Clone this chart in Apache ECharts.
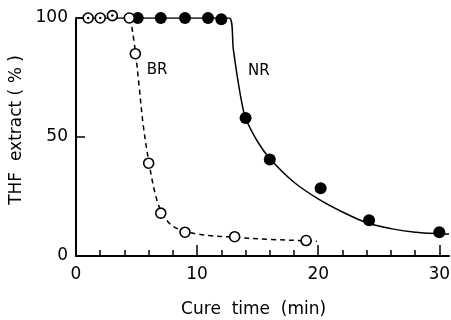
<!DOCTYPE html>
<html>
<head>
<meta charset="utf-8">
<script src="https://cdn.jsdelivr.net/npm/echarts@6/dist/echarts.min.js"></script>
<style>
html,body{margin:0;padding:0;background:#fff;}
#c{width:451px;height:320px;}
</style>
</head>
<body>
<div id="c"></div>
<script>
// Measured points
const brX = [1, 2, 3, 4.4, 4.9, 6, 7, 9, 13.1, 19];
const brY = [100, 100, 101, 100, 85, 39, 18, 10, 8.1, 6.5];
const nrX = [5.1, 7, 9, 10.9, 12, 14, 16, 20.2, 24.2, 30];
const nrY = [100, 100, 100, 100, 99.5, 58, 40.5, 28.5, 15, 10];
// Fitted curves as drawn
const nrCurveX = [0, 12.65, 13.0, 13.3, 13.65, 14, 15, 16, 18, 20, 22, 24, 26, 28, 30, 30.8];
const nrCurveY = [100, 100, 86.5, 76, 65.5, 58, 48, 41, 31, 24, 18.5, 14, 11.5, 10, 9.3, 9.2];
const brCurveX = [4.5, 4.9, 5.2, 5.55, 6, 6.5, 7, 7.5, 8, 9, 10, 11, 13, 16, 19, 19.9];
const brCurveY = [100, 86, 72, 55, 40, 27, 19, 15, 12.5, 10.3, 9.3, 8.6, 7.9, 7.0, 6.4, 6.2];
// Axis ranges and ticks
const xMax = 30.8;
const xTickMax = 30;
const xTickStep = 10;
const xMinorSplit = 5;
const yMax = 100;
const yTickStep = 50;
const seriesLabels = [{name: 'BR', x: 6.7, y: 78}, {name: 'NR', x: 15.1, y: 77.7}];

const zip = (xs, ys) => xs.map((x, i) => [x, ys[i]]);
const FONT = 'DejaVu Sans';
const GL = 76, GR = 2, GT = 18, GB = 64, W = 451;
// second grid has same scale but ends at xTickMax
const plotW = W - GL - GR;
const GR2 = W - GL - plotW * xTickMax / xMax;

const chart = echarts.init(document.getElementById('c'), null, {renderer: 'canvas'});
chart.setOption({
  animation: false,
  backgroundColor: '#fff',
  textStyle: {fontFamily: FONT, color: '#000'},
  grid: [
    {left: GL, right: GR, top: GT, bottom: GB, containLabel: false, outerBoundsMode: 'none'},
    {left: GL, right: GR2, top: GT, bottom: GB, containLabel: false, outerBoundsMode: 'none'}
  ],
  xAxis: [{
    gridIndex: 0, type: 'value', min: 0, max: xMax,
    axisLine: {show: true, lineStyle: {color: '#000', width: 2}},
    axisTick: {show: false}, axisLabel: {show: false}, splitLine: {show: false}
  }, {
    gridIndex: 1, type: 'value', min: 0, max: xTickMax, interval: xTickStep,
    name: 'Cure  time  (min)', nameLocation: 'middle', nameGap: 45,
    nameTextStyle: {fontFamily: FONT, fontSize: 17, color: '#000', padding: [0, 8, 0, 0]},
    axisLine: {show: true, lineStyle: {color: '#000', width: 2, opacity: 0}},
    axisTick: {show: true, inside: true, length: 11, lineStyle: {color: '#000', width: 1.5}},
    minorTick: {show: true, splitNumber: xMinorSplit, length: 6, lineStyle: {color: '#000', width: 1.5}},
    axisLabel: {show: true, margin: 10, fontFamily: FONT, fontSize: 17, color: '#000'},
    splitLine: {show: false}, minorSplitLine: {show: false}
  }],
  yAxis: [{
    gridIndex: 0, type: 'value', min: 0, max: yMax, interval: yTickStep,
    name: 'THF  extract ( % )', nameLocation: 'middle', nameGap: 38,
    nameTextStyle: {fontFamily: FONT, fontSize: 17, color: '#000', padding: [0, 0, 0, 14]},
    axisLine: {show: true, lineStyle: {color: '#000', width: 2}},
    axisTick: {show: true, inside: true, length: 9, lineStyle: {color: '#000', width: 1.5}},
    axisLabel: {show: true, margin: 8, fontFamily: FONT, fontSize: 17, color: '#000'},
    splitLine: {show: false}
  }, {
    gridIndex: 1, type: 'value', min: 0, max: yMax, show: false
  }],
  series: [
    {
      type: 'line', data: zip(nrCurveX, nrCurveY), showSymbol: false, smooth: 0.35,
      lineStyle: {color: '#000', width: 1.5}, z: 2,
      markPoint: {
        symbol: 'circle', symbolSize: 0,
        label: {show: true, formatter: '{b}', fontFamily: FONT, fontSize: 15, color: '#000', position: 'inside'},
        data: seriesLabels.map(l => ({name: l.name, coord: [l.x, l.y]}))
      }
    },
    {
      type: 'line', data: zip(brCurveX, brCurveY), showSymbol: false, smooth: 0.35,
      lineStyle: {color: '#000', width: 1.5, type: [5, 4]}, z: 2
    },
    {
      type: 'scatter', data: zip(nrX, nrY), symbol: 'circle', symbolSize: 12, clip: false,
      itemStyle: {color: '#000', opacity: 1}, z: 3
    },
    {
      type: 'scatter', data: zip(brX, brY), symbol: 'circle', symbolSize: 10, clip: false,
      itemStyle: {color: '#fff', borderColor: '#000', borderWidth: 1.6, opacity: 1}, z: 4
    },
    {
      type: 'scatter', data: zip(brX.slice(0, 3), brY.slice(0, 3)), symbol: 'circle', symbolSize: 2.5, clip: false,
      itemStyle: {color: '#000', opacity: 1}, z: 5
    },
    {
      type: 'scatter', xAxisIndex: 1, yAxisIndex: 1, data: [], silent: true
    }
  ]
});
</script>
</body>
</html>
